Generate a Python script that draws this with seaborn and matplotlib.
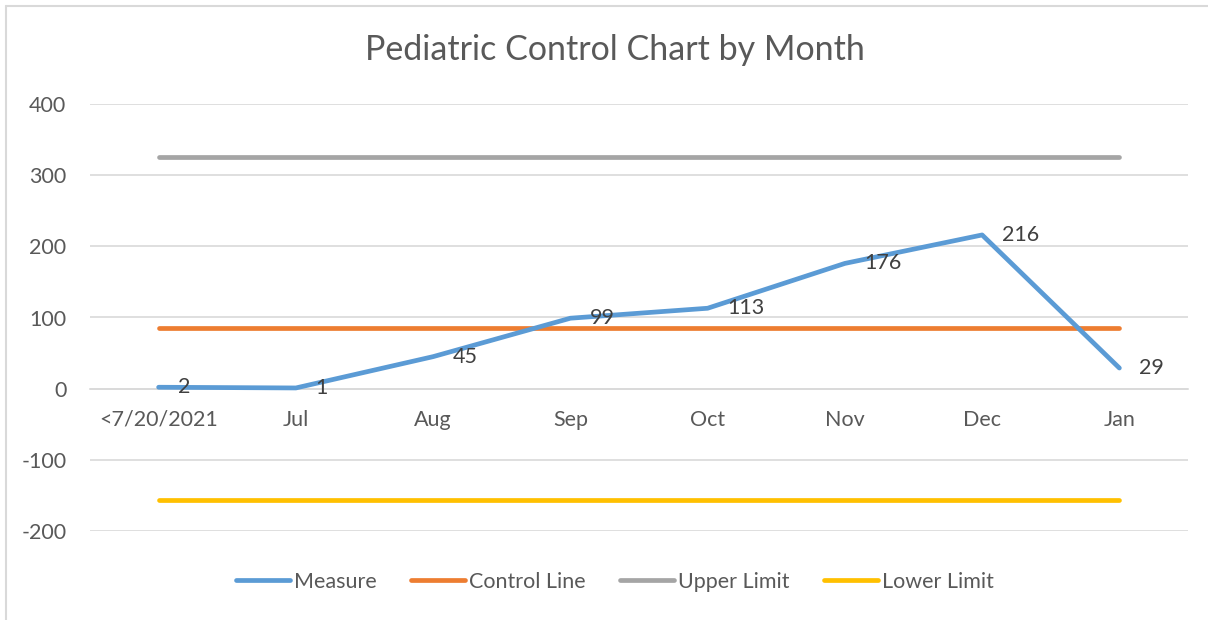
import pandas as pd
import seaborn as sns
import matplotlib.pyplot as plt
from matplotlib.lines import Line2D

# Chart values
months = ["<7/20/2021", "Jul", "Aug", "Sep", "Oct", "Nov", "Dec", "Jan"]
measure = [2, 1, 45, 99, 113, 176, 216, 29]
control_line = [85.7] * 8
upper_limit = [326] * 8
lower_limit = [-156] * 8

series_names = ["Measure", "Control Line", "Upper Limit", "Lower Limit"]
colors = ["#5B9BD5", "#ED7D31", "#A5A5A5", "#FFC000"]

# long-form table for seaborn
df = pd.concat([
    pd.DataFrame({"month": months, "pos": range(len(months)), "value": vals, "series": name})
    for name, vals in zip(series_names, [measure, control_line, upper_limit, lower_limit])
])

sns.set_theme(style="white")
plt.rcParams["font.family"] = ["Lato", "DejaVu Sans"]
plt.rcParams["axes.unicode_minus"] = False

fig = plt.figure(figsize=(12.08, 6.2), dpi=100)
ax = fig.add_axes([90 / 1208, 1 - 531 / 620, 1098 / 1208, 427 / 620])

# draw reversed so Measure sits on top
for name, col in reversed(list(zip(series_names, colors))):
    sub = df[df["series"] == name]
    sns.lineplot(data=sub, x="pos", y="value", color=col, lw=3.4, ax=ax,
                 solid_capstyle="round", legend=False)

# data labels for Measure
for i, v in enumerate(measure):
    ax.annotate(str(v), (i, v), xytext=(14, 0), textcoords="offset points",
                ha="left", va="center", fontsize=15.5, color="#404040")

ax.set_xlim(-0.5, 7.5)
ax.set_ylim(-200, 400)
ax.set_yticks(range(-200, 401, 100))
ax.set_xticks(range(len(months)))
ax.set_xticklabels(months)
ax.set_xlabel("")
ax.set_ylabel("")
ax.grid(axis="y", color="#D9D9D9", lw=1.2)
ax.set_axisbelow(True)
for s in ["top", "right", "left"]:
    ax.spines[s].set_visible(False)
ax.spines["bottom"].set_position(("data", 0))
ax.spines["bottom"].set_color("#D9D9D9")
ax.spines["bottom"].set_linewidth(1.2)
ax.spines["bottom"].set_zorder(0.5)
ax.tick_params(axis="x", length=0, pad=15, labelsize=15.5, colors="#595959")
ax.tick_params(axis="y", length=0, pad=17, labelsize=15.5, colors="#595959")

fig.text(615 / 1208, 1 - 50 / 620, "Pediatric Control Chart by Month",
         ha="center", va="center", fontsize=24.5, color="#595959")

handles = [Line2D([0], [0], color=c, lw=3.4, solid_capstyle="round") for c in colors]
fig.legend(handles, series_names, loc="center", bbox_to_anchor=(615 / 1208, 1 - 582 / 620),
           ncol=4, frameon=False, fontsize=15.5, handlelength=2.5, handletextpad=0.2,
           columnspacing=1.6, labelcolor="#595959")

# thin frame on the top and left edges
fig.add_artist(Line2D([6 / 1208, 1], [1 - 6 / 620, 1 - 6 / 620], color="#D9D9D9", lw=1.5))
fig.add_artist(Line2D([6 / 1208, 6 / 1208], [0, 1 - 6 / 620], color="#D9D9D9", lw=1.5))

fig.savefig("out.png", dpi=100)
